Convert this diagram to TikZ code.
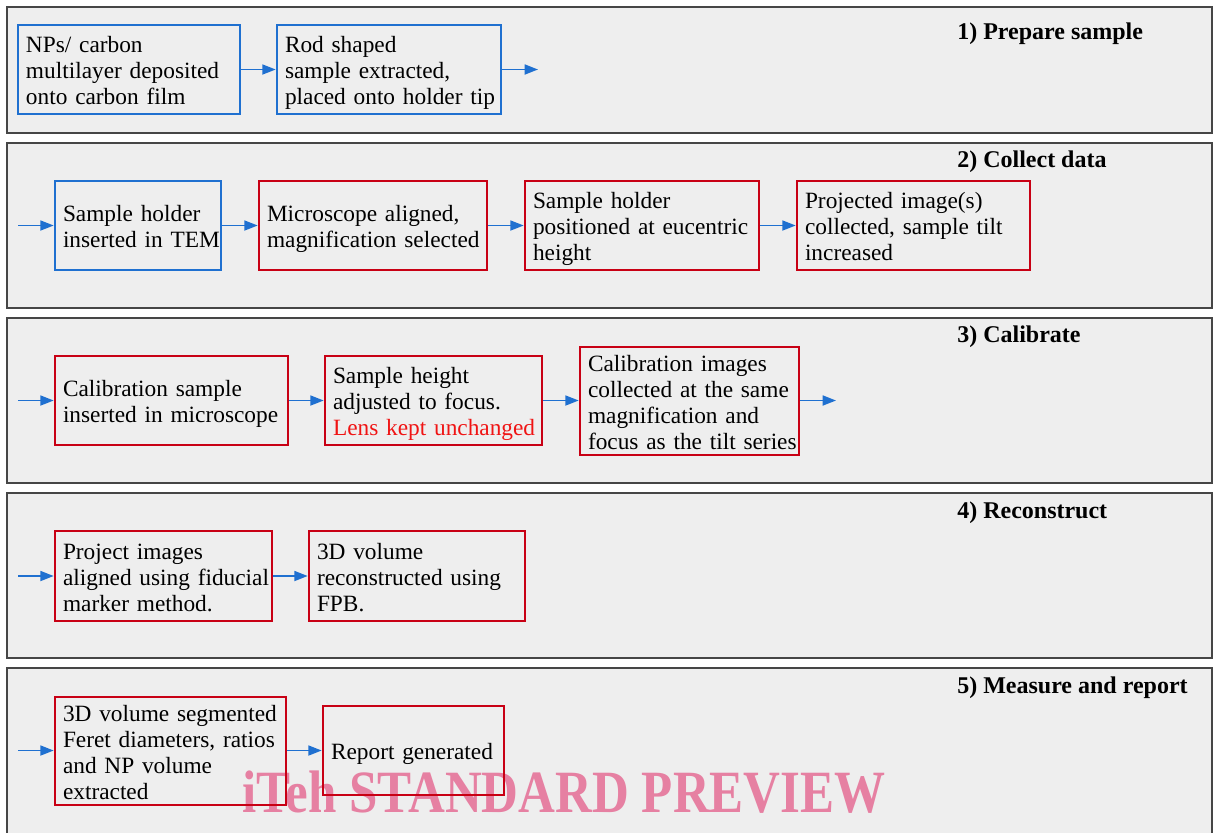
\documentclass[tikz,border=0pt]{standalone}
\usepackage{fontspec}
\setmainfont{Liberation Serif}
\usetikzlibrary{arrows.meta,positioning}
\definecolor{panelfill}{RGB}{238,238,238}
\definecolor{paneldraw}{RGB}{70,70,70}
\definecolor{boxblue}{RGB}{31,112,208}
\definecolor{boxred}{RGB}{200,0,20}
\definecolor{arrowblue}{RGB}{31,112,208}
\definecolor{lensred}{RGB}{240,20,20}
\definecolor{wmpink}{RGB}{230,128,162}
\newcommand\bodyfont{\fontsize{17.5}{19.5}\selectfont}
\newcommand\headfont{\fontsize{18}{20}\selectfont\bfseries}
\newcommand\boxlines[1]{\begin{tabular}{@{}l@{}}\rule{0pt}{16.65pt}#1\\[-3pt]\end{tabular}}
\tikzset{
  panel/.style={fill=panelfill, draw=paneldraw, line width=1.1pt},
  box/.style={draw, line width=2pt, align=left, inner xsep=6pt, inner ysep=0pt, font=\bodyfont},
  bbox/.style={box, draw=boxblue},
  rbox/.style={box, draw=boxred},
  flow/.style={draw=arrowblue, line width=1.3pt, -{Triangle[length=10pt,width=7.5pt]}},
  heading/.style={anchor=base west, font=\headfont, inner sep=0pt},
}
\begin{document}
\begin{tikzpicture}[x=0.75pt, y=-0.75pt]
\useasboundingbox (0,0) rectangle (1213,832);
% panels
\draw[panel] (7,7) rectangle (1212,133);
\draw[panel] (7,143) rectangle (1212,308);
\draw[panel] (7,318) rectangle (1212,483);
\draw[panel] (7,493) rectangle (1212,658);
\draw[panel] (7,668) rectangle (1212,845);
% headings
\node[heading] (h1) at (957,39) {1) Prepare sample};
\node[heading] (h2) at (957,167) {2) Collect data};
\node[heading] (h3) at (957,342) {3) Calibrate};
\node[heading] (h4) at (957,518) {4) Reconstruct};
\node[heading] (h5) at (957,693) {5) Measure and report};
% watermark
\node[font=\fontsize{45}{50}\selectfont\bfseries, text=wmpink, xscale=0.85, inner sep=0pt] (wm) at (564,792) {iTeh STANDARD PREVIEW};
% row 1
\node[bbox, minimum width=166.5pt, minimum height=66.75pt, text width=154.5pt] (b1) at (129,69.5)
  {\boxlines{NPs/ carbon\\ multilayer deposited\\ onto carbon film}};
\node[bbox, minimum width=168pt, minimum height=66.75pt, text width=156pt] (b2) at (389,69.5)
  {\boxlines{Rod shaped\\ sample extracted,\\ placed onto holder tip}};
\coordinate (b2out) at (538,69.5);
\draw[flow] (b1) -- (b2);
\draw[flow] (b2) -- (b2out);
% row 2
\coordinate (c0) at (18,225.5);
\node[bbox, minimum width=124.5pt, minimum height=66.75pt, text width=112.5pt] (c1) at (138,225.5)
  {\boxlines{Sample holder\\ inserted in TEM}};
\node[rbox, minimum width=171pt, minimum height=66.75pt, text width=159pt] (c2) at (373,225.5)
  {\boxlines{Microscope aligned,\\ magnification selected}};
\node[rbox, minimum width=175.5pt, minimum height=66.75pt, text width=163.5pt] (c3) at (642,225.5)
  {\boxlines{Sample holder\\ positioned at eucentric\\ height}};
\node[rbox, minimum width=174.75pt, minimum height=66.75pt, text width=162.75pt] (c4) at (913.5,225.5)
  {\boxlines{Projected image(s)\\ collected, sample tilt\\ increased}};
\draw[flow] (c0) -- (c1);
\draw[flow] (c1) -- (c2);
\draw[flow] (c2) -- (c3);
\draw[flow] (c3) -- (c4);
% row 3
\coordinate (d0) at (18,400.5);
\node[rbox, minimum width=174.75pt, minimum height=66.75pt, text width=162.75pt] (d1) at (171.5,400.5)
  {\boxlines{Calibration sample\\ inserted in microscope}};
\node[rbox, minimum width=162.75pt, minimum height=66.75pt, text width=150.75pt] (d2) at (433.5,400.5)
  {\boxlines{Sample height\\ adjusted to focus.\\ \textcolor{lensred}{Lens kept unchanged}}};
\node[rbox, minimum width=164.25pt, minimum height=81pt, text width=152.25pt] (d3) at (689.5,401)
  {\boxlines{Calibration images\\ collected at the same\\ magnification and\\ focus as the tilt series}};
\coordinate (d3out) at (836,400.5);
\draw[flow] (d0) -- (d1);
\draw[flow] (d1) -- (d2);
\draw[flow] (d2) -- (d2 -| d3.west);
\draw[flow] (d3.east |- d3out) -- (d3out);
% row 4
\coordinate (e0) at (18,576);
\node[rbox, minimum width=162.75pt, minimum height=67.5pt, text width=150.75pt] (e1) at (163.5,576)
  {\boxlines{Project images\\ aligned using fiducial\\ marker method.}};
\node[rbox, minimum width=162pt, minimum height=67.5pt, text width=150pt] (e2) at (417,576)
  {\boxlines{3D volume\\ reconstructed using\\ FPB.}};
\draw[flow] (e0) -- (e1);
\draw[flow] (e1) -- (e2);
% row 5
\coordinate (f0) at (18,750.5);
\node[rbox, minimum width=173.25pt, minimum height=81pt, text width=161.25pt] (f1) at (170.5,751)
  {\boxlines{3D volume segmented\\ Feret diameters, ratios\\ and NP volume\\ extracted}};
\node[rbox, minimum width=135.75pt, minimum height=66.75pt, text width=123.75pt] (f2) at (413.5,750.5)
  {\boxlines{Report generated}};
\draw[flow] (f0) -- (f0 -| f1.west);
\draw[flow] (f1.east |- f2) -- (f2);
\end{tikzpicture}
\end{document}
